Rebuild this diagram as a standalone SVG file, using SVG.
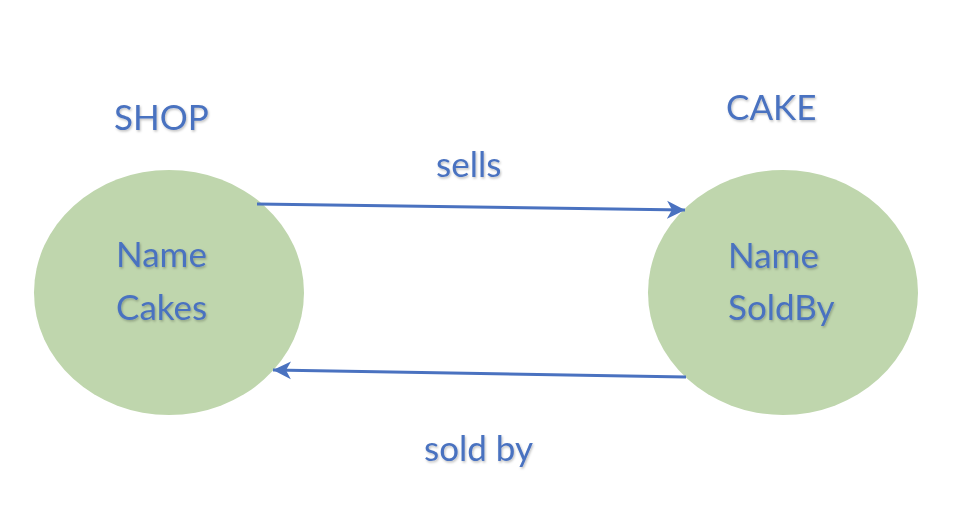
<svg xmlns="http://www.w3.org/2000/svg" width="968" height="524" viewBox="0 0 968 524">
<defs>
<style>
.node{fill:#bfd6ad;}
.t{font-family:Lato,"Liberation Sans",sans-serif;fill:#4a72c0;font-size:35px;}
.conn{stroke:#4a72c0;stroke-width:3;fill:none;}
</style>
<filter id="sh" x="-10%" y="-10%" width="130%" height="140%">
<feDropShadow dx="1" dy="1.5" stdDeviation="0.8" flood-color="#000" flood-opacity="0.25"/>
</filter>
<marker id="ah" markerWidth="20" markerHeight="20" viewBox="0 0 20 20" refX="18" refY="10" orient="auto" markerUnits="userSpaceOnUse">
<path d="M0,1 L18,10 L0,19 L5,10 Z" fill="#4a72c0"/>
</marker>
</defs>
<rect width="968" height="524" fill="#ffffff"/>
<g id="shop">
<ellipse class="node" cx="169" cy="292.5" rx="135" ry="122.5"/>
<text class="t" x="114" y="130" filter="url(#sh)">SHOP</text>
<text class="t" x="116" y="267" filter="url(#sh)">Name</text>
<text class="t" x="116" y="320" filter="url(#sh)">Cakes</text>
</g>
<g id="cake">
<ellipse class="node" cx="783" cy="292.5" rx="135" ry="122.5"/>
<text class="t" x="726" y="120" filter="url(#sh)">CAKE</text>
<text class="t" x="728" y="268" filter="url(#sh)">Name</text>
<text class="t" x="728" y="320" filter="url(#sh)">SoldBy</text>
</g>
<g id="connectors">
<line class="conn" x1="257" y1="204" x2="685" y2="210" marker-end="url(#ah)"/>
<line class="conn" x1="686" y1="377" x2="273" y2="370" marker-end="url(#ah)"/>
<text class="t" x="436" y="177" filter="url(#sh)">sells</text>
<text class="t" x="424" y="461" filter="url(#sh)">sold by</text>
</g>
</svg>
